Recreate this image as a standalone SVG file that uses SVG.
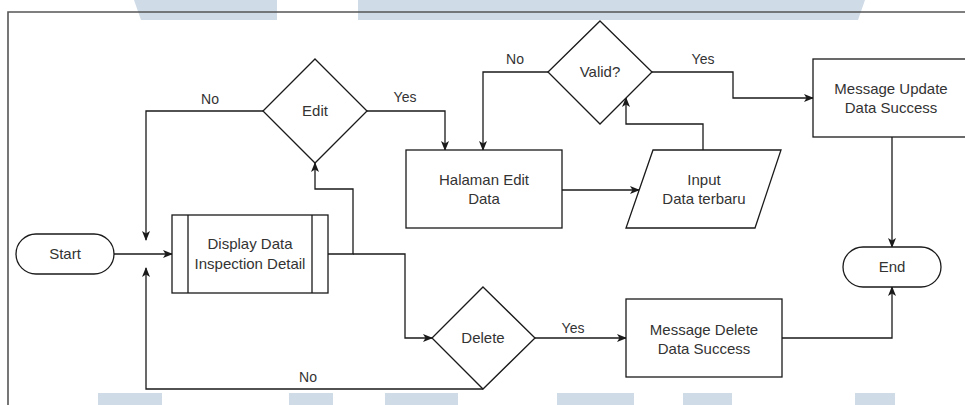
<svg xmlns="http://www.w3.org/2000/svg" width="965" height="405" viewBox="0 0 965 405">
  <style>
    .shape { fill: #ffffff; stroke: #1a1a1a; stroke-width: 1.3; }
    .line { fill: none; stroke: #1a1a1a; stroke-width: 1.3; }
    .txt { font-family: "Liberation Sans", Arial, sans-serif; font-size: 15px; fill: #333333; text-anchor: middle; }
    .lbl { font-family: "Liberation Sans", Arial, sans-serif; font-size: 14px; fill: #333333; text-anchor: middle; }
    .wm { fill: #cfdbe7; }
  </style>
  <defs>
    <marker id="arrow" viewBox="0 0 10 10" refX="9" refY="5" markerWidth="10" markerHeight="10" markerUnits="userSpaceOnUse" orient="auto">
      <path d="M0,1 L10,5 L0,9 L2.5,5 Z" fill="#1a1a1a"/>
    </marker>
  </defs>

  <rect width="965" height="405" fill="#ffffff"/>

  <!-- background band shapes -->
  <g id="background">
    <polygon class="wm" points="134,0 277,0 277,20 141,20"/>
    <polygon class="wm" points="358,0 865,0 858,20 358,20"/>
    <rect class="wm" x="98" y="393" width="64" height="12"/>
    <rect class="wm" x="289" y="393" width="44" height="12"/>
    <rect class="wm" x="385" y="393" width="73" height="12"/>
    <rect class="wm" x="557" y="393" width="77" height="12"/>
    <rect class="wm" x="683" y="393" width="49" height="12"/>
    <rect class="wm" x="855" y="393" width="40" height="12"/>
  </g>

  <!-- frame -->
  <path d="M8,405 V12 H965" fill="none" stroke="#555555" stroke-width="1.6"/>

  <!-- connectors -->
  <g id="connectors">
    <path class="line" d="M114,254 H172" marker-end="url(#arrow)"/>
    <path class="line" d="M328,254 H353 V189 H315 V163" marker-end="url(#arrow)"/>
    <path class="line" d="M353,254 H405 V338 H432" marker-end="url(#arrow)"/>
    <path class="line" d="M263,111 H146 V240" marker-end="url(#arrow)"/>
    <path class="line" d="M367,111 H445 V150" marker-end="url(#arrow)"/>
    <path class="line" d="M562,190 H639" marker-end="url(#arrow)"/>
    <path class="line" d="M703,150 V124 H626 V98" marker-end="url(#arrow)"/>
    <path class="line" d="M548,72 H483 V150" marker-end="url(#arrow)"/>
    <path class="line" d="M652,72 H733 V98 H813" marker-end="url(#arrow)"/>
    <path class="line" d="M892,137 V247" marker-end="url(#arrow)"/>
    <path class="line" d="M535,338 H626" marker-end="url(#arrow)"/>
    <path class="line" d="M782,338 H892 V287" marker-end="url(#arrow)"/>
    <path class="line" d="M483,389 H146 V268" marker-end="url(#arrow)"/>

    <text class="lbl" x="210" y="104">No</text>
    <text class="lbl" x="405" y="102">Yes</text>
    <text class="lbl" x="515" y="64">No</text>
    <text class="lbl" x="703" y="64">Yes</text>
    <text class="lbl" x="573" y="333">Yes</text>
    <text class="lbl" x="308" y="382">No</text>
  </g>

  <g id="start">
    <rect class="shape" x="16" y="234" width="98" height="40" rx="20" ry="20"/>
    <text class="txt" x="65" y="259">Start</text>
  </g>

  <g id="display-data">
    <rect class="shape" x="172" y="215" width="156" height="78"/>
    <path class="line" d="M188,215 V293 M312,215 V293"/>
    <text class="txt" x="250" y="249">Display Data</text>
    <text class="txt" x="250" y="269">Inspection Detail</text>
  </g>

  <g id="edit">
    <polygon class="shape" points="315,59 367,111 315,163 263,111"/>
    <text class="txt" x="315" y="116">Edit</text>
  </g>

  <g id="halaman-edit">
    <rect class="shape" x="406" y="150" width="156" height="78"/>
    <text class="txt" x="484" y="185">Halaman Edit</text>
    <text class="txt" x="484" y="204">Data</text>
  </g>

  <g id="input-data">
    <polygon class="shape" points="653,150 781,150 755,228 626,228"/>
    <text class="txt" x="704" y="185">Input</text>
    <text class="txt" x="704" y="204">Data terbaru</text>
  </g>

  <g id="valid">
    <polygon class="shape" points="600,21 652,72 600,124 548,72"/>
    <text class="txt" x="600" y="77">Valid?</text>
  </g>

  <g id="message-update">
    <rect class="shape" x="813" y="59" width="156" height="78"/>
    <text class="txt" x="891" y="94">Message Update</text>
    <text class="txt" x="891" y="113">Data Success</text>
  </g>

  <g id="end">
    <rect class="shape" x="843" y="247" width="98" height="40" rx="20" ry="20"/>
    <text class="txt" x="892" y="272">End</text>
  </g>

  <g id="delete">
    <polygon class="shape" points="483,287 535,338 483,389 432,338"/>
    <text class="txt" x="483" y="343">Delete</text>
  </g>

  <g id="message-delete">
    <rect class="shape" x="626" y="299" width="156" height="78"/>
    <text class="txt" x="704" y="335">Message Delete</text>
    <text class="txt" x="704" y="354">Data Success</text>
  </g>
</svg>
